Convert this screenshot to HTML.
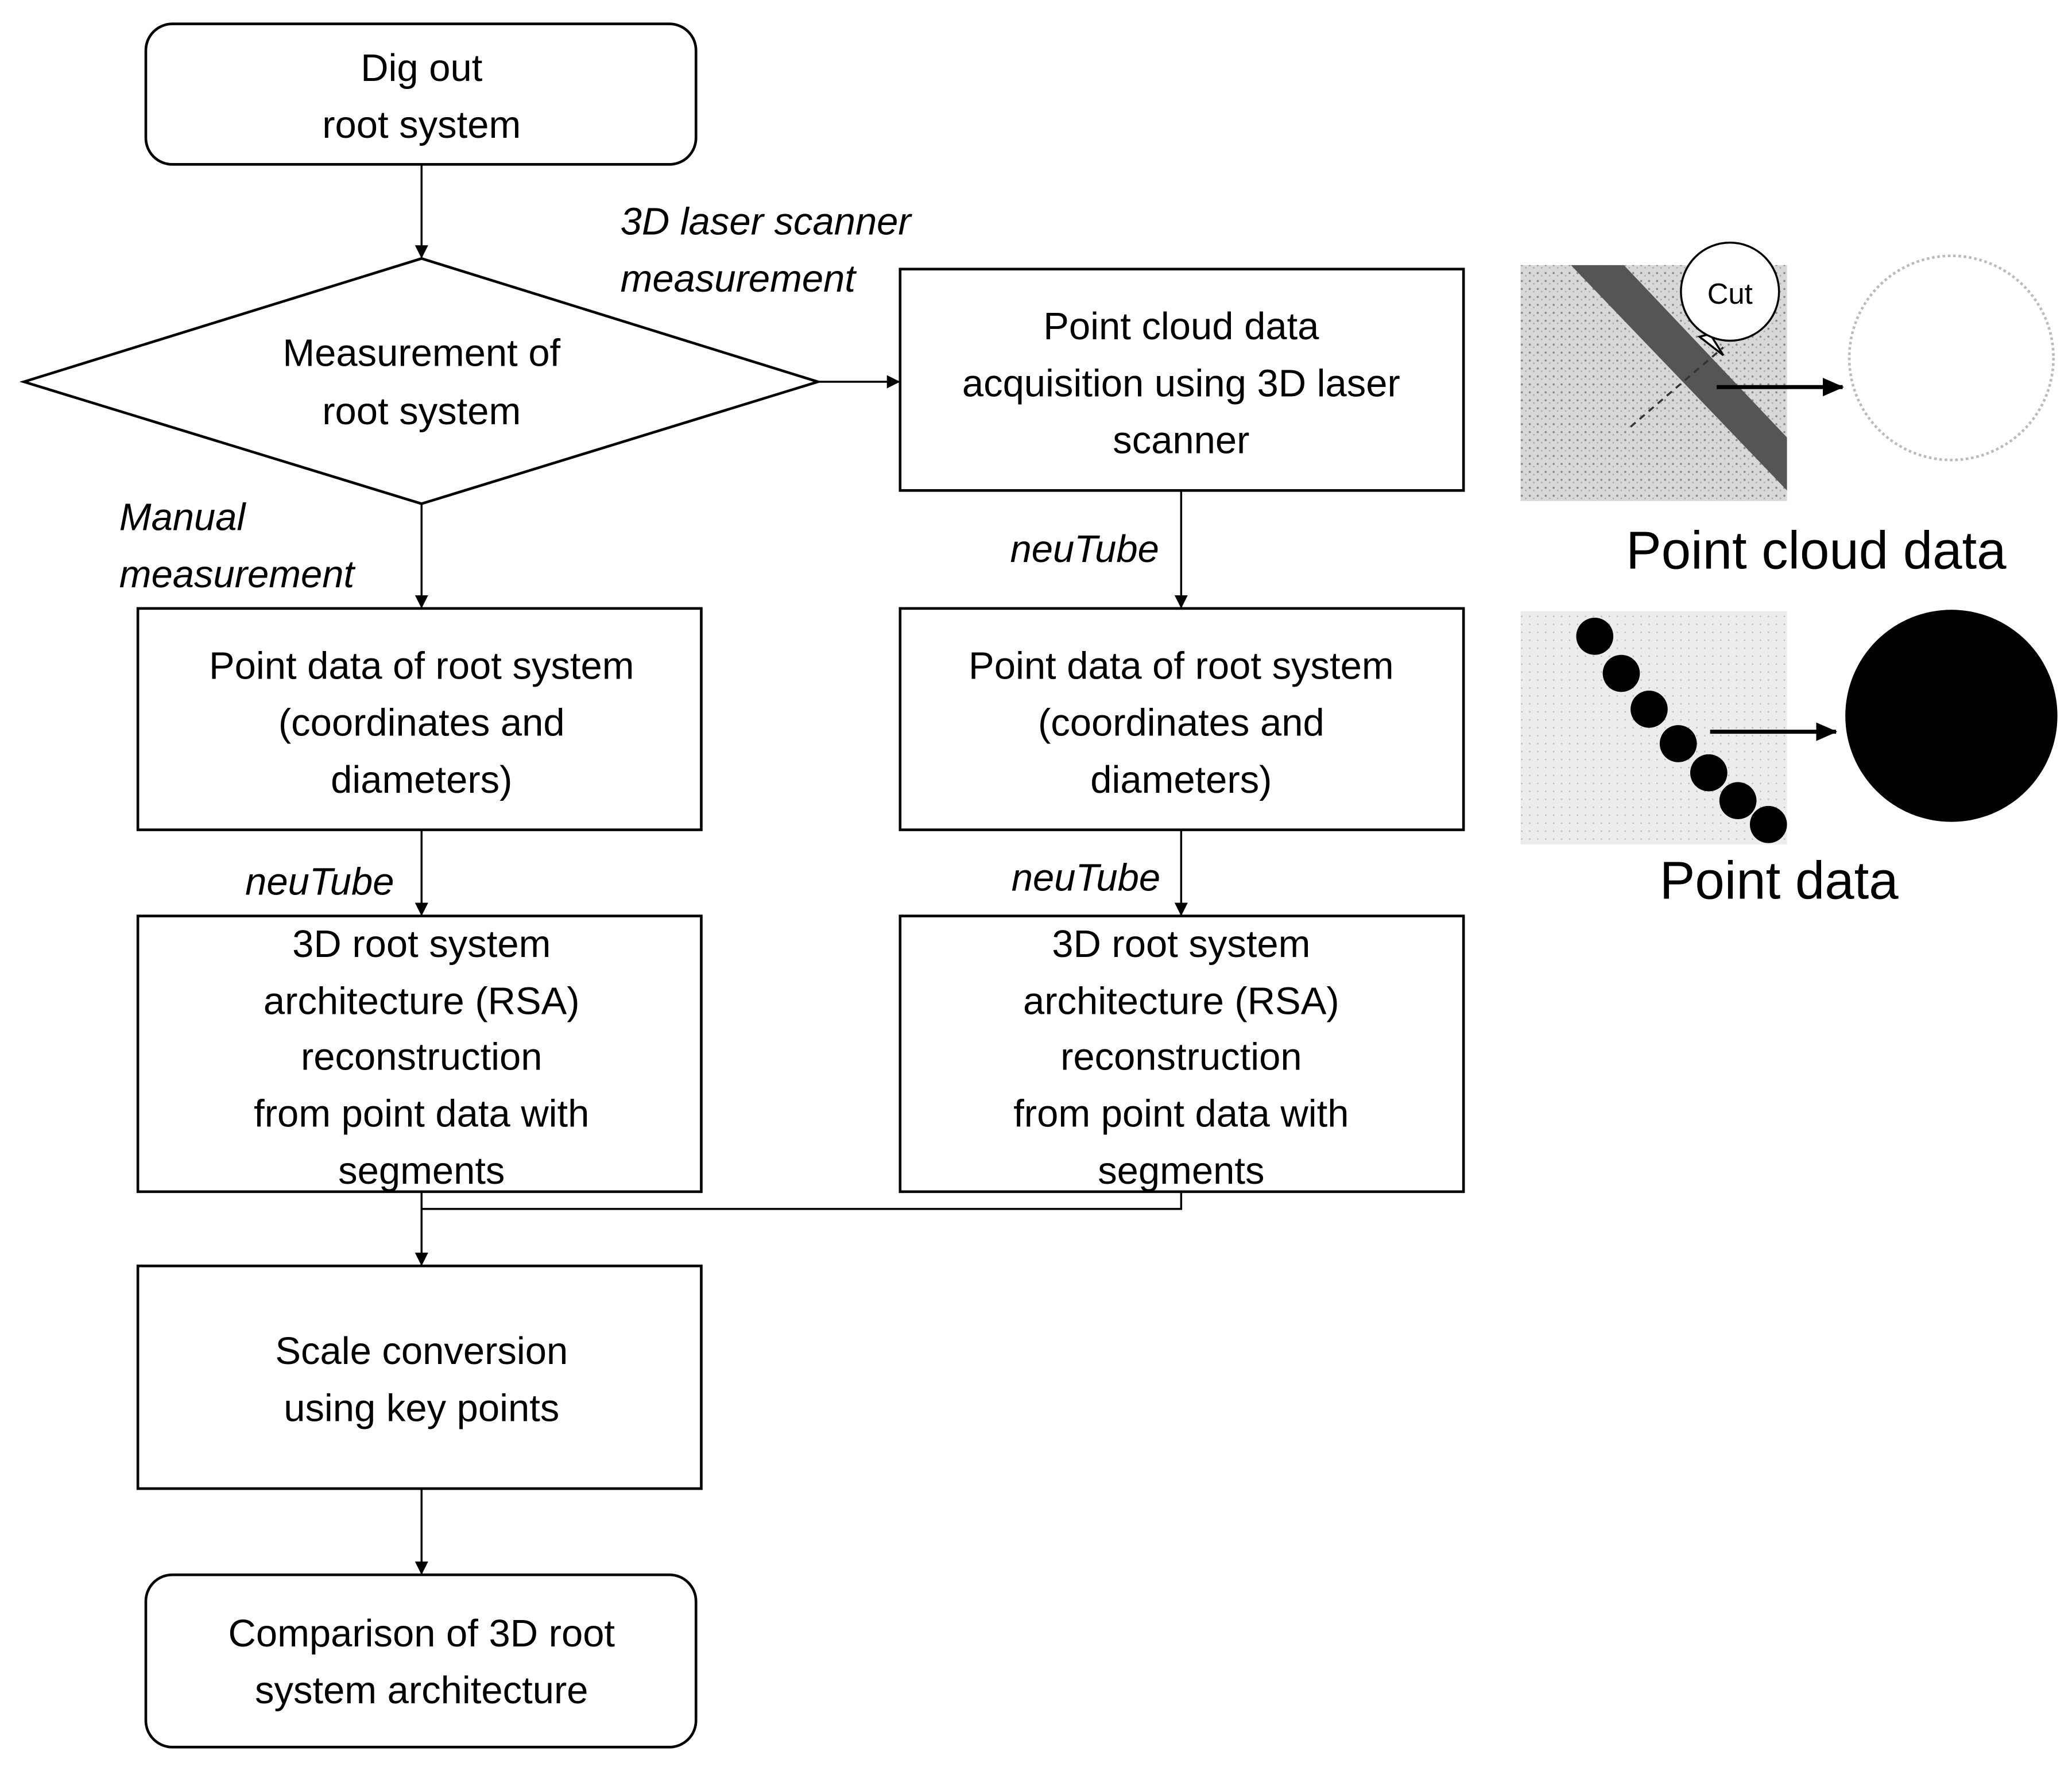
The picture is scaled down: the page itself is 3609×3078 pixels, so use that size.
<!DOCTYPE html>
<html><head><meta charset="utf-8"><style>html,body{margin:0;padding:0;background:#fff}svg{display:block}text{font-family:"Liberation Sans",sans-serif;fill:#000}</style></head>
<body>
<svg width="3609" height="3078" viewBox="0 0 1563 1333" xmlns="http://www.w3.org/2000/svg">
<defs>
<marker id="a" markerWidth="10" markerHeight="10" refX="9" refY="5" orient="auto" markerUnits="userSpaceOnUse"><path d="M0,0 L10,5 L0,10 z" fill="#000"/></marker>
<marker id="b" markerWidth="16" markerHeight="14" refX="15" refY="7" orient="auto" markerUnits="userSpaceOnUse"><path d="M0,0 L16,7 L0,14 z" fill="#000"/></marker>
<pattern id="dots" width="6" height="6" patternUnits="userSpaceOnUse"><rect width="6" height="6" fill="#d8d8d8"/><circle cx="2" cy="2" r="0.8" fill="#888"/><circle cx="5" cy="4" r="0.6" fill="#aaa"/></pattern>
<pattern id="dots2" width="6" height="6" patternUnits="userSpaceOnUse"><rect width="6" height="6" fill="#ececec"/><circle cx="2" cy="3" r="0.6" fill="#bbb"/></pattern>
</defs>
<g fill="none" stroke="#000" stroke-width="2">
<rect x="110" y="18" width="415" height="106" rx="20"/>
<polygon points="18,288 318,195 617,288 318,380"/>
<rect x="679" y="203" width="425" height="167"/>
<rect x="104" y="459" width="425" height="167"/>
<rect x="679" y="459" width="425" height="167"/>
<rect x="104" y="691" width="425" height="208"/>
<rect x="679" y="691" width="425" height="208"/>
<rect x="104" y="955" width="425" height="168"/>
<rect x="110" y="1188" width="415" height="130" rx="20"/>
</g>
<g stroke="#000" stroke-width="1.5" fill="none">
<line x1="318" y1="124" x2="318" y2="194" marker-end="url(#a)"/>
<line x1="617" y1="288" x2="678" y2="288" marker-end="url(#a)"/>
<line x1="891" y1="370" x2="891" y2="458" marker-end="url(#a)"/>
<line x1="318" y1="380" x2="318" y2="458" marker-end="url(#a)"/>
<line x1="318" y1="626" x2="318" y2="690" marker-end="url(#a)"/>
<line x1="891" y1="626" x2="891" y2="690" marker-end="url(#a)"/>
<line x1="318" y1="899" x2="318" y2="954" marker-end="url(#a)"/>
<polyline points="318,912 891,912 891,899"/>
<line x1="318" y1="1123" x2="318" y2="1187" marker-end="url(#a)"/>
</g>
<g font-size="29" text-anchor="middle">
<text x="318" y="61">Dig out</text><text x="318" y="104">root system</text>
<text x="318" y="276">Measurement of</text><text x="318" y="320">root system</text>
<text x="891" y="256">Point cloud data</text><text x="891" y="299">acquisition using 3D laser</text><text x="891" y="342">scanner</text>
<text x="318" y="512">Point data of root system</text><text x="318" y="555">(coordinates and</text><text x="318" y="598">diameters)</text>
<text x="891" y="512">Point data of root system</text><text x="891" y="555">(coordinates and</text><text x="891" y="598">diameters)</text>
<text x="318" y="722">3D root system</text><text x="318" y="765">architecture (RSA)</text><text x="318" y="807">reconstruction</text><text x="318" y="850">from point data with</text><text x="318" y="893">segments</text>
<text x="891" y="722">3D root system</text><text x="891" y="765">architecture (RSA)</text><text x="891" y="807">reconstruction</text><text x="891" y="850">from point data with</text><text x="891" y="893">segments</text>
<text x="318" y="1029">Scale conversion</text><text x="318" y="1072">using key points</text>
<text x="318" y="1242">Comparison of 3D root</text><text x="318" y="1285">system architecture</text>
</g>
<g font-size="29" font-style="italic">
<text x="468" y="177">3D laser scanner</text><text x="468" y="220">measurement</text>
<text x="90" y="400">Manual</text><text x="90" y="443">measurement</text>
<text x="762" y="424">neuTube</text>
<text x="185" y="675">neuTube</text>
<text x="763" y="672">neuTube</text>
</g>
<rect x="1147" y="200" width="201" height="178" fill="url(#dots)"/>
<path d="M1185,200 L1225,200 L1348,330 L1348,370 Z" fill="#555"/>
<line x1="1230" y1="322" x2="1300" y2="262" stroke="#333" stroke-width="1.5" stroke-dasharray="5,4"/>
<path d="M1290,252 L1300,268 L1282,254 Z" fill="#fff" stroke="#000" stroke-width="1.5"/>
<circle cx="1305" cy="220" r="37" fill="#fff" stroke="#000" stroke-width="1.5"/>
<text x="1305" y="229" font-size="22" text-anchor="middle">Cut</text>
<line x1="1295" y1="292" x2="1390" y2="292" stroke="#000" stroke-width="3" marker-end="url(#b)"/>
<circle cx="1472" cy="270" r="77" fill="none" stroke="#bbb" stroke-width="2" stroke-dasharray="2,2"/>
<text x="1370" y="429" font-size="40" text-anchor="middle">Point cloud data</text>
<rect x="1147" y="461" width="201" height="176" fill="url(#dots2)"/>
<g fill="#000"><circle cx="1203" cy="480" r="14"/><circle cx="1223" cy="508" r="14"/><circle cx="1244" cy="535" r="14"/><circle cx="1266" cy="561" r="14"/><circle cx="1289" cy="583" r="14"/><circle cx="1311" cy="604" r="14"/><circle cx="1334" cy="622" r="14"/></g>
<line x1="1290" y1="552" x2="1385" y2="552" stroke="#000" stroke-width="3" marker-end="url(#b)"/>
<circle cx="1472" cy="540" r="80" fill="#000"/>
<text x="1342" y="678" font-size="40" text-anchor="middle">Point data</text>
</svg>
</body></html>
